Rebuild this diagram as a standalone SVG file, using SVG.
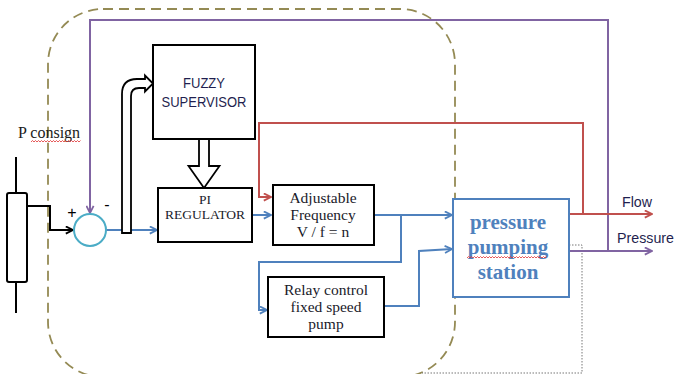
<svg xmlns="http://www.w3.org/2000/svg" width="676" height="374" viewBox="0 0 676 374">
<style>
.box{fill:#fff;stroke:#000;stroke-width:2}
.serif{font-family:"Liberation Serif","Times New Roman",serif;fill:#1a1a2a;text-anchor:middle}
.s13{font-size:13.5px}
.s15{font-size:15.5px}
.sans{font-family:"Liberation Sans",Arial,sans-serif;font-size:15px;fill:#1F1F4F}
.blue{fill:none;stroke:#4F81BD;stroke-width:2}
.red{fill:none;stroke:#C0504D;stroke-width:2}
.purple{fill:none;stroke:#8064A2;stroke-width:2}
.blk{fill:none;stroke:#000;stroke-width:2}
.squig{fill:none;stroke:#E03030;stroke-width:0.8}
</style>
<defs>
<marker id="ab" viewBox="0 0 10 10" refX="9" refY="5" markerWidth="9" markerHeight="9" markerUnits="userSpaceOnUse" orient="auto"><path d="M1,1 L9,5 L1,9" fill="none" stroke="#4F81BD" stroke-width="2"/></marker>
<marker id="ar" viewBox="0 0 10 10" refX="9" refY="5" markerWidth="9" markerHeight="9" markerUnits="userSpaceOnUse" orient="auto"><path d="M1,1 L9,5 L1,9" fill="none" stroke="#C0504D" stroke-width="2"/></marker>
<marker id="ap" viewBox="0 0 10 10" refX="9" refY="5" markerWidth="9" markerHeight="9" markerUnits="userSpaceOnUse" orient="auto"><path d="M1,1 L9,5 L1,9" fill="none" stroke="#8064A2" stroke-width="2"/></marker>
<marker id="ak" viewBox="0 0 10 10" refX="9" refY="5" markerWidth="9" markerHeight="9" markerUnits="userSpaceOnUse" orient="auto"><path d="M1,1 L9,5 L1,9" fill="none" stroke="#000" stroke-width="2"/></marker>
</defs>
<rect width="676" height="374" fill="#fff"/>

<!-- dashed boundary -->
<rect x="48" y="9" width="407" height="368" rx="55" ry="55" fill="none" stroke="#948A54" stroke-width="1.8" stroke-dasharray="10,6"/>

<!-- dotted feedback outline -->
<path d="M569,245 H582 V373 H422" fill="none" stroke="#777" stroke-width="1" stroke-dasharray="1.5,1.5"/>

<g id="connectors">
<path class="purple" d="M608,251 V20 H90 V213" marker-end="url(#ap)"/>
<path class="red" d="M583,214 V123 H259 V197 H271" marker-end="url(#ar)"/>
<path class="red" d="M569,214 H652" marker-end="url(#ar)"/>
<path class="purple" d="M569,251 H652" marker-end="url(#ap)"/>
<path class="blk" d="M27,206 H50 V230 H73" marker-end="url(#ak)"/>
<path class="blue" d="M106,230 H157" marker-end="url(#ab)"/>
<path class="blue" d="M252,215 H271" marker-end="url(#ab)"/>
<path class="blue" d="M374,215 H452" marker-end="url(#ab)"/>
<path class="blue" d="M401,215 V262 H259 V310 H267" marker-end="url(#ab)"/>
<path class="blue" d="M384,306 H419 V251 L452,249" marker-end="url(#ab)"/>
<!-- hollow bent arrow to fuzzy supervisor -->
<path d="M122,233 V94 Q122,79 137,79 H145 V75.5 L153,83.5 L145,91.5 V88 H139 Q131,88 131,96 V233 Z" fill="#fff" stroke="#000" stroke-width="1.8" stroke-linejoin="miter"/>
<!-- hollow down arrow fuzzy to PI -->
<path d="M199,139 V166 H188.5 L204,188 L219.5,166 H209 V139" fill="#fff" stroke="#000" stroke-width="1.8"/>
</g>

<g id="pconsign">
<line x1="16" y1="157" x2="16" y2="313" stroke="#000" stroke-width="2"/>
<rect x="7" y="193" width="20" height="89" rx="2" fill="#fff" stroke="#000" stroke-width="2"/>
<text x="18" y="138" style="font-family:'Liberation Serif','Times New Roman',serif;font-size:16px;fill:#1a1a1a">P consign</text>
<path class="squig" d="M31,142 l1.5,-1.5 l1.5,1.5 l1.5,-1.5 l1.5,1.5 l1.5,-1.5 l1.5,1.5 l1.5,-1.5 l1.5,1.5 l1.5,-1.5 l1.5,1.5 l1.5,-1.5 l1.5,1.5 l1.5,-1.5 l1.5,1.5 l1.5,-1.5 l1.5,1.5 l1.5,-1.5 l1.5,1.5 l1.5,-1.5 l1.5,1.5 l1.5,-1.5 l1.5,1.5 l1.5,-1.5 l1.5,1.5 l1.5,-1.5 l1.5,1.5 l1.5,-1.5 l1.5,1.5 l1.5,-1.5 l1.5,1.5 l1.5,-1.5 l1.5,1.5 l1.5,-1.5"/>
</g>

<g id="sum">
<circle cx="90" cy="230" r="16" fill="#fff" stroke="#4BACC6" stroke-width="2"/>
<text x="72" y="218" style="font-family:'Liberation Sans',Arial,sans-serif;font-size:16px;fill:#000" text-anchor="middle">+</text>
<text x="107" y="210" style="font-family:'Liberation Sans',Arial,sans-serif;font-size:16px;fill:#000" text-anchor="middle">-</text>
</g>

<g id="fuzzy">
<rect class="box" x="153" y="45" width="102" height="94"/>
<text class="sans" x="204" y="88" text-anchor="middle" textLength="42" lengthAdjust="spacingAndGlyphs">FUZZY</text>
<text class="sans" x="204" y="107" text-anchor="middle" textLength="85" lengthAdjust="spacingAndGlyphs">SUPERVISOR</text>
</g>

<g id="pi">
<rect class="box" x="158" y="188" width="94" height="54"/>
<text class="serif s13" x="205" y="204">PI</text>
<text class="serif s13" x="205" y="219">REGULATOR</text>
</g>

<g id="adjfreq">
<rect class="box" x="273" y="185" width="101" height="60"/>
<text class="serif s15" x="323" y="203">Adjustable</text>
<text class="serif s15" x="323" y="220">Frequency</text>
<text class="serif s15" x="323" y="237">V / f = n</text>
</g>

<g id="relay">
<rect class="box" x="268" y="277" width="116" height="60"/>
<text class="serif s15" x="326" y="295">Relay control</text>
<text class="serif s15" x="326" y="312">fixed speed</text>
<text class="serif s15" x="326" y="329">pump</text>
</g>

<g id="station">
<rect x="453" y="199" width="116" height="98" fill="#fff" stroke="#4F81BD" stroke-width="2"/>
<g style="font-family:'Liberation Serif','Times New Roman',serif;font-size:21px;font-weight:bold;fill:#4F81BD" text-anchor="middle">
<text x="508" y="229">pressure</text>
<text x="508" y="254">pumping</text>
<text x="508" y="279">station</text>
</g>
<path class="squig" d="M467,258 l1.5,-1.5 l1.5,1.5 l1.5,-1.5 l1.5,1.5 l1.5,-1.5 l1.5,1.5 l1.5,-1.5 l1.5,1.5 l1.5,-1.5 l1.5,1.5 l1.5,-1.5 l1.5,1.5 l1.5,-1.5 l1.5,1.5 l1.5,-1.5 l1.5,1.5 l1.5,-1.5 l1.5,1.5 l1.5,-1.5 l1.5,1.5 l1.5,-1.5 l1.5,1.5 l1.5,-1.5 l1.5,1.5 l1.5,-1.5 l1.5,1.5 l1.5,-1.5 l1.5,1.5 l1.5,-1.5 l1.5,1.5 l1.5,-1.5 l1.5,1.5 l1.5,-1.5 l1.5,1.5 l1.5,-1.5 l1.5,1.5 l1.5,-1.5 l1.5,1.5 l1.5,-1.5 l1.5,1.5 l1.5,-1.5 l1.5,1.5 l1.5,-1.5 l1.5,1.5 l1.5,-1.5 l1.5,1.5 l1.5,-1.5 l1.5,1.5 l1.5,-1.5 l1.5,1.5 l1.5,-1.5 l1.5,1.5 l1.5,-1.5"/>
</g>

<g id="outputs">
<text class="sans" x="622" y="207" textLength="30" lengthAdjust="spacingAndGlyphs">Flow</text>
<text class="sans" x="617" y="243" textLength="57" lengthAdjust="spacingAndGlyphs">Pressure</text>
</g>
</svg>
